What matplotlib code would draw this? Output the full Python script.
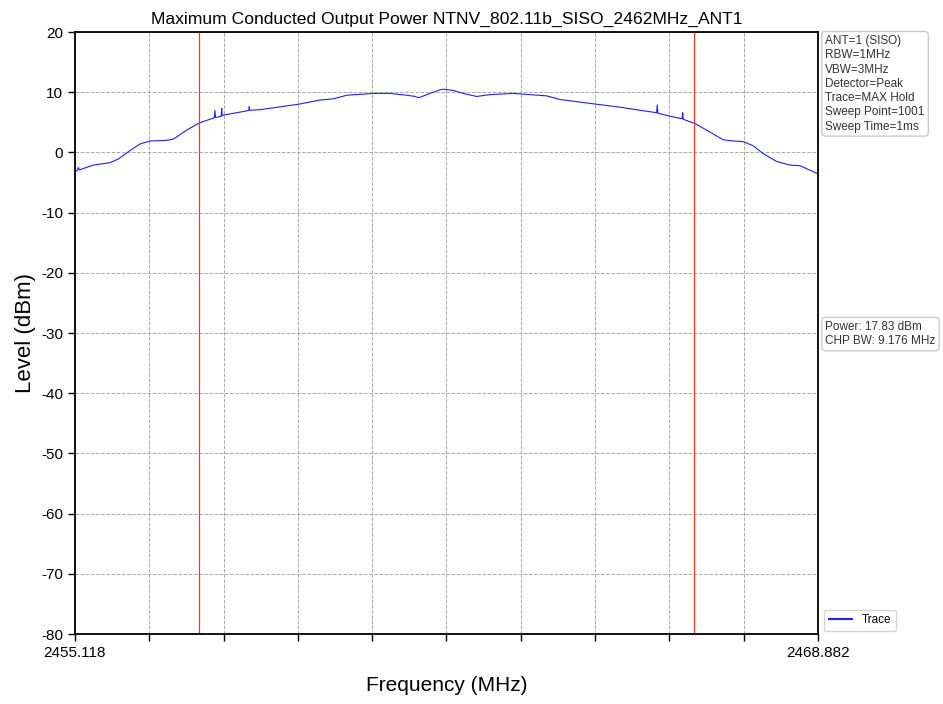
import matplotlib
matplotlib.use('Agg')
import matplotlib.pyplot as plt
import numpy as np

plt.rcParams['font.family'] = ['Liberation Sans', 'DejaVu Sans']
plt.rcParams['axes.unicode_minus'] = False

# Sweep span and channel power markers
f_start, f_stop = 2455.118, 2468.882
chp_left, chp_right = 2457.412, 2466.588

# Trace (MHz, dBm)
freq = [2455.118, 2455.160, 2455.179, 2455.200, 2455.457, 2455.766, 2455.920,
        2456.137, 2456.322, 2456.507, 2456.817, 2456.939, 2457.187, 2457.421,
        2457.680, 2457.700, 2457.711, 2457.722, 2457.773, 2457.826, 2457.836,
        2457.846, 2457.866, 2458.299, 2458.337, 2458.347, 2458.357, 2458.545,
        2459.255, 2459.657, 2459.903, 2460.151, 2460.644, 2460.953, 2461.263,
        2461.420, 2461.478, 2461.520, 2461.694, 2461.880, 2461.950, 2462.033,
        2462.126, 2462.311, 2462.559, 2462.806, 2463.238, 2463.856, 2464.103,
        2464.783, 2465.153, 2465.585, 2465.894, 2465.905, 2465.916, 2466.202,
        2466.366, 2466.376, 2466.387, 2466.604, 2466.820, 2467.128, 2467.313,
        2467.499, 2467.684, 2467.869, 2468.117, 2468.363, 2468.549, 2468.869,
        2468.882]
level = [-3.2, -3.0, -2.5, -2.9, -2.1, -1.7, -1.1,
         0.3, 1.4, 1.9, 2.0, 2.2, 3.7, 4.9,
         5.7, 5.8, 7.0, 5.8, 5.9, 6.0, 7.3,
         6.1, 6.2, 6.9, 7.0, 7.6, 7.0, 7.1,
         8.0, 8.7, 8.9, 9.5, 9.8, 9.8, 9.5,
         9.3, 9.1, 9.2, 9.8, 10.4, 10.5, 10.4,
         10.3, 9.8, 9.3, 9.6, 9.8, 9.4, 8.8,
         8.0, 7.6, 7.0, 6.6, 7.9, 6.5, 5.9,
         5.6, 6.6, 5.5, 4.8, 3.7, 2.1, 1.9,
         1.8, 1.1, -0.2, -1.5, -2.1, -2.2, -3.5,
         -3.6]

settings = ['ANT=1 (SISO)', 'RBW=1MHz', 'VBW=3MHz', 'Detector=Peak',
            'Trace=MAX Hold', 'Sweep Point=1001', 'Sweep Time=1ms']
results = ['Power: 17.83 dBm', 'CHP BW: 9.176 MHz']

fig = plt.figure(figsize=(9.43, 7.04), dpi=100)
ax = fig.add_axes([0.0795, 0.0994, 0.7879, 0.8551])

ax.plot(freq, level, color='#2020ff', linewidth=0.8, label='Trace')
ax.axvline(chp_left, color='#ff3030', linewidth=0.9)
ax.axvline(chp_right, color='#ff3030', linewidth=0.9)

ax.set_xlim(f_start, f_stop)
ax.set_ylim(-80, 20)
ax.set_xticks(np.linspace(f_start, f_stop, 11))
ax.set_xticklabels(['2455.118'] + [''] * 9 + ['2468.882'])
ax.set_yticks(np.arange(-80, 21, 10))
ax.tick_params(axis='both', labelsize=11, direction='out', length=5, width=1)
ax.grid(True, color='#aaaaaa', linestyle='--', linewidth=0.7)
for s in ax.spines.values():
    s.set_linewidth(1.3)

ax.set_title('Maximum Conducted Output Power NTNV_802.11b_SISO_2462MHz_ANT1', fontsize=12.6)
ax.set_xlabel('Frequency (MHz)', fontsize=15, labelpad=12)
ax.set_ylabel('Level (dBm)', fontsize=16)

box = dict(boxstyle='round,pad=0.3', facecolor='white', edgecolor='#cccccc')
ax.text(1.01, 0.995, '\n'.join(settings), transform=ax.transAxes, fontsize=8.5,
        va='top', ha='left', color='#333333', bbox=box, linespacing=1.25)
ax.text(1.01, 0.52, '\n'.join(results), transform=ax.transAxes, fontsize=8.5,
        va='top', ha='left', color='#333333', bbox=box, linespacing=1.25)

leg = ax.legend(loc='lower left', bbox_to_anchor=(1.0, -0.005), fontsize=8.5,
                frameon=True, edgecolor='#cccccc', handlelength=2)
for line in leg.get_lines():
    line.set_linewidth(1.5)

fig.savefig('out.png', dpi=100)
